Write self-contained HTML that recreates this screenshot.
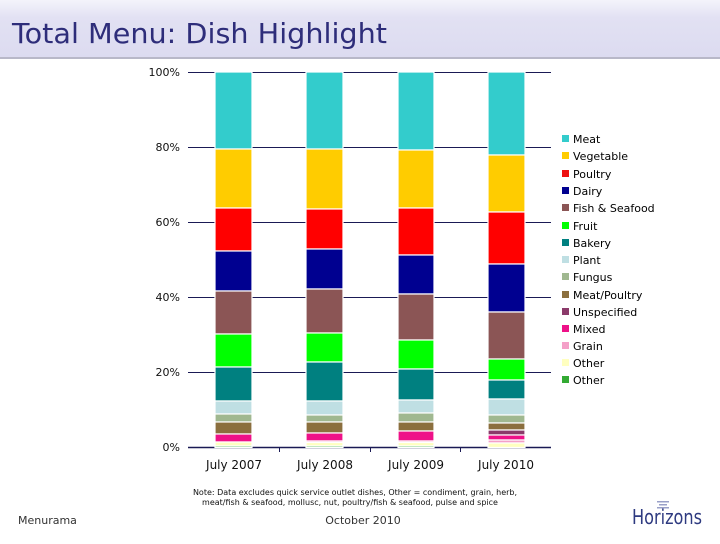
<!DOCTYPE html>
<html><head><meta charset="utf-8"><style>
body{margin:0;width:720px;height:540px;overflow:hidden;background:#fff;font-family:"DejaVu Sans","Liberation Sans",sans-serif}
</style></head><body>
<svg width="720" height="540" xmlns="http://www.w3.org/2000/svg" font-family="DejaVu Sans, Liberation Sans, sans-serif">
<defs><linearGradient id="g" x1="0" y1="0" x2="0" y2="1"><stop offset="0" stop-color="#f4f4fb"/><stop offset="0.3" stop-color="#e2e1f3"/><stop offset="1" stop-color="#dcdbf0"/></linearGradient></defs>
<rect x="0" y="0" width="720" height="58" fill="url(#g)"/>
<rect x="0" y="57" width="720" height="2" fill="#b8b8c8"/>
<text x="12" y="43" font-size="28" fill="#2e2d7a" textLength="375" lengthAdjust="spacingAndGlyphs">Total Menu: Dish Highlight</text>
<g stroke="#1a1a55" stroke-width="1">
<line x1="188" y1="72.5" x2="551" y2="72.5"/><line x1="188" y1="147.5" x2="551" y2="147.5"/><line x1="188" y1="222.5" x2="551" y2="222.5"/><line x1="188" y1="297.5" x2="551" y2="297.5"/><line x1="188" y1="372.5" x2="551" y2="372.5"/>
<line x1="188" y1="447.5" x2="551" y2="447.5" stroke-width="1.5"/>
<line x1="279.5" y1="447" x2="279.5" y2="452"/><line x1="370.5" y1="447" x2="370.5" y2="452"/><line x1="460.5" y1="447" x2="460.5" y2="452"/>
</g>
<g font-size="11" fill="#111" text-anchor="end">
<text x="180" y="76">100%</text><text x="180" y="151">80%</text><text x="180" y="226">60%</text><text x="180" y="301">40%</text><text x="180" y="376">20%</text><text x="180" y="451">0%</text>
</g>
<g font-size="12" fill="#111" text-anchor="middle">
<text x="234" y="469">July 2007</text><text x="325" y="469">July 2008</text><text x="416" y="469">July 2009</text><text x="506" y="469">July 2010</text>
</g>
<g stroke="#fff" stroke-width="1.2">
<rect x="215" y="72" width="37" height="77" fill="#33cccc"/>
<rect x="215" y="149" width="37" height="59" fill="#ffcc00"/>
<rect x="215" y="208" width="37" height="43" fill="#ff0000"/>
<rect x="215" y="251" width="37" height="40" fill="#000090"/>
<rect x="215" y="291" width="37" height="43" fill="#8b5555"/>
<rect x="215" y="334" width="37" height="33" fill="#00ff00"/>
<rect x="215" y="367" width="37" height="34" fill="#008080"/>
<rect x="215" y="401" width="37" height="13" fill="#bfdfe3"/>
<rect x="215" y="414" width="37" height="8" fill="#a0b890"/>
<rect x="215" y="422" width="37" height="12" fill="#8b6f3e"/>
<rect x="215" y="434" width="37" height="8" fill="#ee1188"/>
<rect x="215" y="442" width="37" height="4" fill="#ffffc0"/>
<rect x="215" y="446" width="37" height="1.5" fill="#33aa33"/>
<rect x="306" y="72" width="37" height="77" fill="#33cccc"/>
<rect x="306" y="149" width="37" height="60" fill="#ffcc00"/>
<rect x="306" y="209" width="37" height="40" fill="#ff0000"/>
<rect x="306" y="249" width="37" height="40" fill="#000090"/>
<rect x="306" y="289" width="37" height="44" fill="#8b5555"/>
<rect x="306" y="333" width="37" height="29" fill="#00ff00"/>
<rect x="306" y="362" width="37" height="39" fill="#008080"/>
<rect x="306" y="401" width="37" height="14" fill="#bfdfe3"/>
<rect x="306" y="415" width="37" height="7" fill="#a0b890"/>
<rect x="306" y="422" width="37" height="11" fill="#8b6f3e"/>
<rect x="306" y="433" width="37" height="8" fill="#ee1188"/>
<rect x="306" y="441" width="37" height="1.5" fill="#f4a0c8"/>
<rect x="306" y="442.5" width="37" height="3.5" fill="#ffffc0"/>
<rect x="306" y="446" width="37" height="1.5" fill="#33aa33"/>
<rect x="398" y="72" width="36" height="78" fill="#33cccc"/>
<rect x="398" y="150" width="36" height="58" fill="#ffcc00"/>
<rect x="398" y="208" width="36" height="47" fill="#ff0000"/>
<rect x="398" y="255" width="36" height="39" fill="#000090"/>
<rect x="398" y="294" width="36" height="46" fill="#8b5555"/>
<rect x="398" y="340" width="36" height="29" fill="#00ff00"/>
<rect x="398" y="369" width="36" height="31" fill="#008080"/>
<rect x="398" y="400" width="36" height="13" fill="#bfdfe3"/>
<rect x="398" y="413" width="36" height="9" fill="#a0b890"/>
<rect x="398" y="422" width="36" height="9" fill="#8b6f3e"/>
<rect x="398" y="431" width="36" height="10" fill="#ee1188"/>
<rect x="398" y="441" width="36" height="1.5" fill="#f4a0c8"/>
<rect x="398" y="442.5" width="36" height="3.5" fill="#ffffc0"/>
<rect x="398" y="446" width="36" height="1.5" fill="#33aa33"/>
<rect x="488" y="72" width="37" height="83" fill="#33cccc"/>
<rect x="488" y="155" width="37" height="57" fill="#ffcc00"/>
<rect x="488" y="212" width="37" height="52" fill="#ff0000"/>
<rect x="488" y="264" width="37" height="48" fill="#000090"/>
<rect x="488" y="312" width="37" height="47" fill="#8b5555"/>
<rect x="488" y="359" width="37" height="21" fill="#00ff00"/>
<rect x="488" y="380" width="37" height="19" fill="#008080"/>
<rect x="488" y="399" width="37" height="16" fill="#bfdfe3"/>
<rect x="488" y="415" width="37" height="8" fill="#a0b890"/>
<rect x="488" y="423" width="37" height="7" fill="#8b6f3e"/>
<rect x="488" y="430" width="37" height="5" fill="#8b3a6a"/>
<rect x="488" y="435" width="37" height="5" fill="#ee1188"/>
<rect x="488" y="440" width="37" height="3" fill="#f4a0c8"/>
<rect x="488" y="443" width="37" height="4.5" fill="#ffffc0"/>
</g>
<g font-size="11" fill="#000">
<rect x="562" y="135" width="7" height="7" fill="#33cccc"/><text x="573" y="143">Meat</text>
<rect x="562" y="152" width="7" height="7" fill="#ffcc00"/><text x="573" y="160">Vegetable</text>
<rect x="562" y="170" width="7" height="7" fill="#ee1111"/><text x="573" y="178">Poultry</text>
<rect x="562" y="187" width="7" height="7" fill="#000090"/><text x="573" y="195">Dairy</text>
<rect x="562" y="204" width="7" height="7" fill="#8b5555"/><text x="573" y="212">Fish &amp; Seafood</text>
<rect x="562" y="222" width="7" height="7" fill="#00ff00"/><text x="573" y="230">Fruit</text>
<rect x="562" y="239" width="7" height="7" fill="#008080"/><text x="573" y="247">Bakery</text>
<rect x="562" y="256" width="7" height="7" fill="#bfdfe3"/><text x="573" y="264">Plant</text>
<rect x="562" y="273" width="7" height="7" fill="#a0b890"/><text x="573" y="281">Fungus</text>
<rect x="562" y="291" width="7" height="7" fill="#8b6f3e"/><text x="573" y="299">Meat/Poultry</text>
<rect x="562" y="308" width="7" height="7" fill="#8b3a6a"/><text x="573" y="316">Unspecified</text>
<rect x="562" y="325" width="7" height="7" fill="#ee1188"/><text x="573" y="333">Mixed</text>
<rect x="562" y="342" width="7" height="7" fill="#f4a0c8"/><text x="573" y="350">Grain</text>
<rect x="562" y="359" width="7" height="7" fill="#ffffc0"/><text x="573" y="367">Other</text>
<rect x="562" y="376" width="7" height="7" fill="#33aa33"/><text x="573" y="384">Other</text>
</g>
<g font-size="8" fill="#111" text-anchor="middle">
<text x="355" y="495">Note: Data excludes quick service outlet dishes, Other = condiment, grain, herb,</text>
<text x="350" y="505">meat/fish &amp; seafood, mollusc, nut, poultry/fish &amp; seafood, pulse and spice</text>
</g>
<text x="18" y="524" font-size="11" fill="#333">Menurama</text>
<text x="363" y="524" font-size="11" fill="#333" text-anchor="middle">October 2010</text>
<g fill="#9aa0c8"><rect x="657" y="501" width="12" height="1.5"/><rect x="659" y="504" width="8" height="1.5"/><rect x="657" y="507" width="12" height="1.5"/></g>
<text x="632" y="524" font-size="20" fill="#2e3a80" textLength="70" lengthAdjust="spacingAndGlyphs">Horizons</text>
</svg>
</body></html>
